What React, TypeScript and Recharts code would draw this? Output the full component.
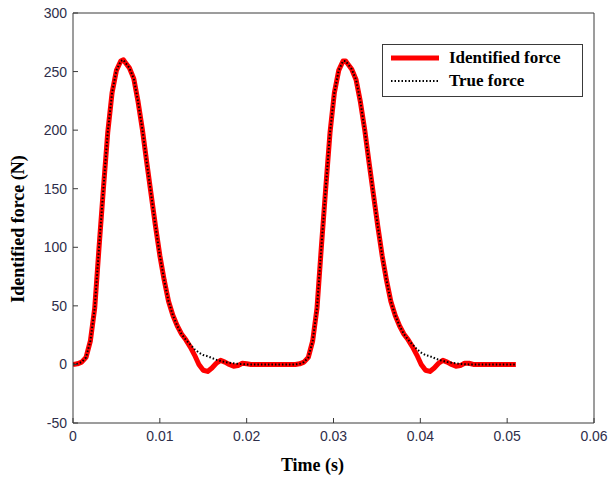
import React from "react";
import { LineChart, Line, XAxis, YAxis } from "recharts";

const times = [
  0, 0.0005, 0.001, 0.0015, 0.002, 0.0025, 0.003, 0.0035, 0.004, 0.0045, 0.005, 0.0055, 0.0058, 0.006,
  0.0065, 0.007, 0.0075, 0.008, 0.0085, 0.009, 0.0095, 0.01, 0.0105, 0.011, 0.0115, 0.012, 0.0125, 0.013,
  0.0135, 0.014, 0.0145, 0.015, 0.0155, 0.016, 0.0165, 0.017, 0.0175, 0.018, 0.0185, 0.019, 0.0195, 0.02,
  0.0205, 0.022, 0.024, 0.0256,
  0.0261, 0.0266, 0.0271, 0.0276, 0.0281, 0.0286, 0.0291, 0.0296, 0.0301, 0.0306, 0.0311, 0.0314, 0.0316,
  0.0321, 0.0326, 0.0331, 0.0336, 0.0341, 0.0346, 0.0351, 0.0356, 0.0361, 0.0366, 0.0371, 0.0376, 0.0381,
  0.0386, 0.0391, 0.0396, 0.0401, 0.0406, 0.0411, 0.0416, 0.0421, 0.0426, 0.0431, 0.0436, 0.0441, 0.0446,
  0.0451, 0.0456, 0.0461, 0.047, 0.049, 0.051,
];

const identifiedForce = [
  0, 0.5, 2, 6, 20, 48, 100, 150, 198, 232, 251, 259, 260, 258,
  253, 244, 224, 200, 172, 145, 118, 93, 72, 54, 42, 33, 26, 21,
  15, 8, 0, -5, -6, -3, 1, 3.5, 2, 0, -1.5, -1, 1, 0.5,
  0, 0, 0, 0,
  0.5, 2, 6, 20, 48, 100, 150, 198, 232, 251, 259, 259, 257,
  252, 243, 224, 200, 172, 145, 118, 93, 72, 54, 42, 33, 26,
  21, 15, 8, 0, -5, -6, -3, 1, 3.5, 2, 0, -1.5, -1,
  1, 1, 0, 0, 0, 0,
];

const trueForce = [
  0, 0.5, 2, 6, 20, 48, 100, 150, 198, 232, 251, 259, 260, 258,
  253, 244, 224, 200, 172, 145, 118, 93, 72, 54, 42, 33, 26, 21,
  17, 13, 10, 8, 7, 5.5, 4, 3, 2, 1.5, 1, 0.5, 0.2, 0,
  0, 0, 0, 0,
  0.5, 2, 6, 20, 48, 100, 150, 198, 232, 251, 259, 259, 257,
  252, 243, 224, 200, 172, 145, 118, 93, 72, 54, 42, 33, 26,
  21, 17, 13, 10, 8, 7, 5.5, 4, 3, 2, 1.5, 1, 0.5,
  0.2, 0, 0, 0, 0, 0,
];

const xTicks = [0, 0.01, 0.02, 0.03, 0.04, 0.05, 0.06];
const yTicks = [-50, 0, 50, 100, 150, 200, 250, 300];
const xTickLabels = ["0", "0.01", "0.02", "0.03", "0.04", "0.05", "0.06"];
const seriesNames = ["Identified force", "True force"];

const data = times.map((t, i) => ({ t, identified: identifiedForce[i], trueF: trueForce[i] }));

const tickStyle = { fontFamily: "Liberation Sans, Arial, sans-serif", fontSize: 14, fill: "#2e2e4a" };
const labelFont = "Liberation Serif, Times New Roman, serif";
const axisColor = "#3a3a3a";

const LegendBox = () => (
  <div
    style={{
      position: "absolute",
      left: 382,
      top: 44,
      width: 199,
      height: 51,
      border: "1px solid #3a3a3a",
      background: "#fff",
      fontFamily: labelFont,
      fontWeight: "bold",
      fontSize: 17,
      color: "#000",
    }}
  >
    <svg width={60} height={51} style={{ position: "absolute", left: 0, top: 0 }}>
      <line x1={8} x2={56} y1={13} y2={13} stroke="#ff0000" strokeWidth={5} />
      <line x1={8} x2={56} y1={36} y2={36} stroke="#000" strokeWidth={2} strokeDasharray="1.5 2" />
    </svg>
    <div style={{ position: "absolute", left: 66, top: 2, lineHeight: "22px" }}>{seriesNames[0]}</div>
    <div style={{ position: "absolute", left: 66, top: 25, lineHeight: "22px" }}>{seriesNames[1]}</div>
  </div>
);

const YLabel = (props: any) => {
  const vb = props.viewBox || { x: 0, y: 0, width: 0, height: 0 };
  const cx = vb.x + 18;
  const cy = vb.y + vb.height / 2 + 11;
  return (
    <text
      x={cx}
      y={cy}
      transform={`rotate(-90 ${cx} ${cy})`}
      textAnchor="middle"
      dominantBaseline="central"
      style={{ fontFamily: labelFont, fontWeight: "bold", fontSize: 18, fill: "#000" }}
    >
      Identified force (N)
    </text>
  );
};

export default function App() {
  return (
    <div style={{ position: "absolute", left: 0, top: 0, width: 611, height: 479, background: "#fff" }}>
      <LineChart width={611} height={479} data={data} margin={{ top: 12, right: 16, bottom: 0, left: 0 }}>
        <XAxis
          dataKey="t"
          type="number"
          domain={[0, 0.06]}
          ticks={xTicks}
          tickFormatter={(v: number) => xTickLabels[xTicks.indexOf(v)] ?? String(v)}
          height={56}
          tickSize={-5}
          tickMargin={13}
          tick={tickStyle}
          stroke={axisColor}
          allowDataOverflow
          interval={0}
          label={{
            value: "Time (s)",
            position: "insideBottom",
            offset: 8,
            dx: -21,
            style: { fontFamily: labelFont, fontWeight: "bold", fontSize: 18, fill: "#000" },
          }}
        />
        <XAxis
          xAxisId="top"
          dataKey="t"
          type="number"
          orientation="top"
          domain={[0, 0.06]}
          ticks={xTicks}
          height={1}
          tickSize={-5}
          tick={false}
          stroke={axisColor}
          allowDataOverflow
          interval={0}
        />
        <YAxis
          type="number"
          domain={[-50, 300]}
          ticks={yTicks}
          width={73}
          tickSize={-5}
          tickMargin={11}
          tick={tickStyle}
          stroke={axisColor}
          allowDataOverflow
          interval={0}
          label={<YLabel />}
        />
        <YAxis
          yAxisId="right"
          orientation="right"
          type="number"
          domain={[-50, 300]}
          ticks={yTicks}
          width={1}
          tickSize={-5}
          tick={false}
          stroke={axisColor}
          allowDataOverflow
          interval={0}
        />
        <Line
          dataKey="identified"
          name={seriesNames[0]}
          type="linear"
          stroke="#ff0000"
          strokeWidth={5}
          dot={false}
          isAnimationActive={false}
          strokeLinejoin="round"
        />
        <Line
          dataKey="trueF"
          name={seriesNames[1]}
          type="linear"
          stroke="#000"
          strokeWidth={2}
          strokeDasharray="1.5 2"
          dot={false}
          isAnimationActive={false}
        />
      </LineChart>
      <LegendBox />
    </div>
  );
}
